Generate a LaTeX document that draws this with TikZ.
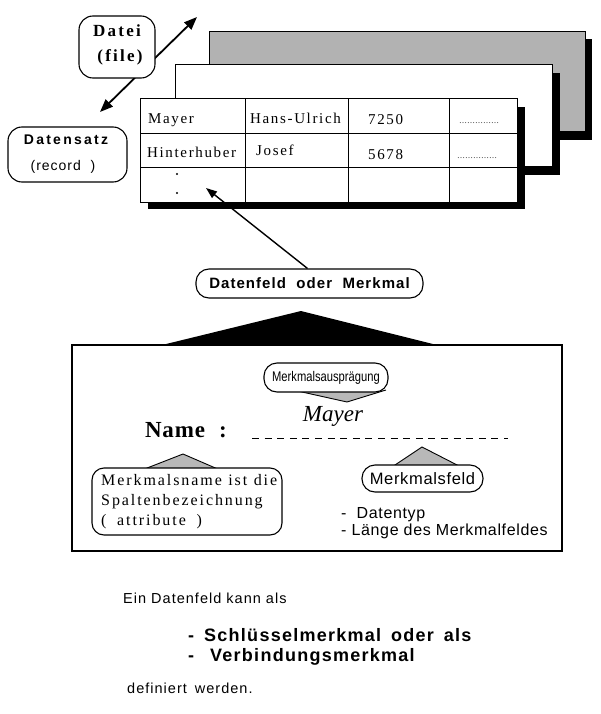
\documentclass[tikz,border=0pt]{standalone}
\usepackage{fontspec}
\setmainfont{Liberation Serif}
\setsansfont{Liberation Sans}
\newfontfamily\tabfont{Liberation Serif}[LetterSpace=11]
\newfontfamily\wideserif{Liberation Serif}[LetterSpace=12]
\newfontfamily\boldserif{Liberation Serif}[LetterSpace=13]
\newfontfamily\widesans{Liberation Sans}[LetterSpace=7]
\newfontfamily\vwidesans{Liberation Sans}[LetterSpace=16]
\newfontfamily\lsans{Liberation Sans}[LetterSpace=4]
\usetikzlibrary{arrows.meta}
\begin{document}
\begin{tikzpicture}[x=1pt,y=-1pt,
  cell/.style={anchor=base west,inner sep=0pt,font=\tabfont\fontsize{15}{16}\selectfont},
  rbox/.style={draw,line width=1.1pt,fill=white,rounded corners=13pt,inner sep=0pt},
  gtri/.style={draw,line width=0.9pt,fill=black!28},
  sheet/.style={draw,line width=1pt},
  sans/.style={font=\lsans\fontsize{16}{18}\selectfont},
  bsans/.style={font=\widesans\bfseries\fontsize{18}{20}\selectfont},
]
\useasboundingbox (0,0) rectangle (600,714);

% ---- sheets
\fill (216,39) rectangle (592,140);
\draw[sheet,fill=black!30] (209,32) rectangle (585,132);
\fill (183,73) rectangle (560,175);
\draw[sheet,fill=white] (175,65) rectangle (552,167);
\fill (148,107) rectangle (525,209);
\draw[sheet,fill=white] (140,99) rectangle (517,202);
\draw[line width=1pt] (140,134) -- (517,134) (140,168) -- (517,168)
  (245,99) -- (245,202) (348,99) -- (348,202) (449,99) -- (449,202);

\node[cell] (c11) at (148,124) {Mayer};
\node[cell] (c12) at (250,124) {Hans-Ulrich};
\node[cell] (c13) at (368,125) {7250};
\node[cell,font=\fontsize{8}{8}\selectfont] (c14) at (459,124) {\ldots\ldots\ldots\ldots\ldots};
\node[cell] (c21) at (147,158) {Hinterhuber};
\node[cell] (c22) at (256,156) {Josef};
\node[cell] (c23) at (368,160) {5678};
\node[cell,font=\fontsize{8}{8}\selectfont] (c24) at (457,159) {\ldots\ldots\ldots\ldots\ldots};
\fill (177,174) circle (1.1pt) (177,193) circle (1.1pt);
\coordinate (cellpt) at (206,188);

% ---- Datei / Datensatz
\coordinate (aTop) at (197,17);
\coordinate (aBot) at (100,112);
\draw[line width=1.8pt,{Triangle[length=13pt,width=10pt]}-{Triangle[length=13pt,width=10pt]}] (aBot) -- (aTop);
\node[rbox,minimum width=76pt,minimum height=62pt,rounded corners=14pt] (datei) at (117,47) {};
\node[anchor=base,inner sep=0pt,font=\boldserif\bfseries\fontsize{17}{20}\selectfont] (dateit) at (117,37) {Datei};
\node[anchor=base,inner sep=0pt,font=\boldserif\bfseries\fontsize{17}{20}\selectfont] (filet) at (120,62) {(file)};
\node[rbox,minimum width=119pt,minimum height=55pt,rounded corners=14pt] (dsatz) at (67.5,154.5) {};
\node[anchor=base,inner sep=0pt,font=\vwidesans\bfseries\fontsize{14}{16}\selectfont] (dsatzt) at (66,145) {Datensatz};
\node[anchor=base,inner sep=0pt,font=\widesans\fontsize{14}{16}\selectfont] (recordt) at (63,171) {(record~ )};

% ---- Datenfeld oder Merkmal
\node[rbox,minimum width=227pt,minimum height=29pt,font=\widesans\bfseries\fontsize{15}{17}\selectfont]
  (dfm) at (309.5,283.5) {Datenfeld~~oder~~Merkmal};
\draw[line width=1.4pt,-{Triangle[length=11pt,width=8pt]}] (dfm.north) ++(-2,0) -- (cellpt);

% ---- big box
\node[draw,line width=1.1pt,minimum width=490pt,minimum height=206pt,inner sep=0pt] (bigbox) at (317,448) {};
\fill (162,345) -- (301,311) -- (437,345) -- cycle;

% Merkmalsauspraegung
\draw[gtri] (293,390) -- (347,402) -- (386,390);
\node[rbox,minimum width=124pt,minimum height=29pt,font=\sffamily\fontsize{14}{16}\selectfont]
  (maus) at (326,377.5) {\scalebox{0.8}[1]{Merkmalsausprägung}};
\node[font=\itshape\fontsize{23}{25}\selectfont,inner sep=0pt] (mayer) at (333,416) {Mayer};
\node[font=\bfseries\fontsize{23}{25}\selectfont,inner sep=0pt,anchor=base west] (name) at (145,437) {N\kern0.5pt a\kern1pt m\kern1pt e\hspace{14pt}:};
\coordinate (dl1) at (252,438);
\coordinate (dl2) at (508,438);
\draw[line width=1pt,dash pattern=on 7pt off 5.6pt] (dl1) -- (dl2);

% Merkmalsname
\draw[gtri] (142,470) -- (183,454) -- (220,470);
\node[rbox,minimum width=190pt,minimum height=67pt,rounded corners=12pt] (mname) at (187,501.5) {};
\node[anchor=north west,align=left,inner sep=0pt,text width=176pt,
  font=\wideserif\fontsize{16}{20}\selectfont] (mnametxt) at (101,474)
  {Merkmalsname\hfill ist\hfill die\\Spaltenbezeichnung\\(~ attribute~ )};

% Merkmalsfeld
\draw[gtri] (392,467) -- (422,447) -- (461,467);
\node[rbox,minimum width=121pt,minimum height=27pt,font=\lsans\fontsize{16.5}{18}\selectfont]
  (mfeld) at (422.5,478.5) {Merkmalsfeld};
\node[sans,anchor=base west,inner sep=0pt] (dt) at (341,518) {-~ Datentyp};
\node[sans,anchor=base west,inner sep=0pt] (lm) at (341,535) {- Länge des Merkmalfeldes};

% ---- bottom text
\node[font=\widesans\fontsize{14.5}{16}\selectfont,anchor=base west,inner sep=0pt] (t1) at (123,603) {Ein Datenfeld kann als};
\node[bsans,anchor=base west,inner sep=0pt] (t2) at (188,641) {-\hspace{10pt}Schlüsselmerkmal\hspace{10pt}oder\hspace{10pt}als};
\node[bsans,anchor=base west,inner sep=0pt] (t3) at (188,661) {-\hspace{16pt}Verbindungsmerkmal};
\node[font=\widesans\fontsize{14.5}{16}\selectfont,anchor=base west,inner sep=0pt] (t4) at (127,693) {definiert\hspace{8pt}werden.};
\end{tikzpicture}
\end{document}
